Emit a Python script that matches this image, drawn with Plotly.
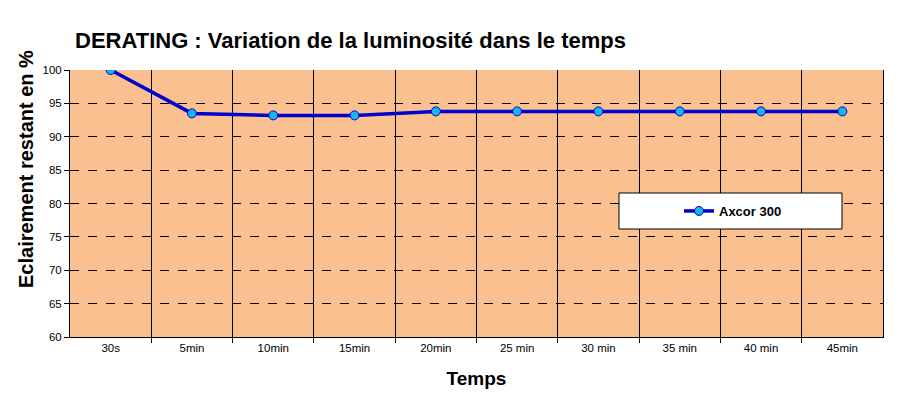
import plotly.graph_objects as go

categories = ["30s", "5min", "10min", "15min", "20min", "25 min", "30 min", "35 min", "40 min", "45min"]
values = [100, 93.5, 93.2, 93.2, 93.8, 93.8, 93.8, 93.8, 93.8, 93.8]
series_name = "Axcor 300"
y_ticks = [60, 65, 70, 75, 80, 85, 90, 95, 100]

x_idx = list(range(len(categories)))
bounds = [i + 0.5 for i in range(len(categories) - 1)]

fig = go.Figure()
fig.add_trace(go.Scatter(
    x=x_idx, y=values, mode="lines+markers", name="<b>" + series_name + "</b>",
    line=dict(color="#0000CC", width=3.5),
    marker=dict(color="#19B5F0", size=9, line=dict(color="#0000CC", width=1)),
))

font = "Liberation Sans, Arial, sans-serif"
W, H = 900, 398
L, R, T, B = 70, 17, 70, 61
pw, ph = W - L - R, H - T - B
fig.update_layout(
    width=W, height=H,
    margin=dict(l=L, r=R, t=T, b=B),
    paper_bgcolor="white",
    plot_bgcolor="#FAC090",
    font=dict(family=font, color="black", size=11),
    title=dict(text="<b>DERATING : Variation de la luminosité dans le temps</b>",
               x=75/W, xanchor="left", y=1-40/H, yanchor="middle",
               font=dict(size=22, family=font)),
    showlegend=True,
    legend=dict(x=(733-L)/pw, y=(H-B-211)/ph, xanchor="center", yanchor="middle",
                bgcolor="rgba(0,0,0,0)", borderwidth=0,
                font=dict(size=13, family=font), itemwidth=30),
    shapes=[dict(type="rect", xref="paper", yref="paper",
                 x0=(619-L)/pw, x1=(842-L)/pw,
                 y0=(H-B-229)/ph, y1=(H-B-193)/ph,
                 fillcolor="white", line=dict(color="black", width=1), layer="above")],
    annotations=[dict(text="<b>Eclairement restant en %</b>", textangle=-90,
                      xref="paper", yref="paper", x=(26-L)/pw, y=(H-B-169)/ph,
                      xanchor="center", yanchor="middle", showarrow=False,
                      font=dict(size=20, family=font))],
)
fig.update_xaxes(
    range=[-0.5, len(categories) - 0.5],
    tickvals=x_idx, ticktext=categories, ticks="", showgrid=False,
    showline=True, linecolor="black", linewidth=1, mirror=False,
    zeroline=False,
    minor=dict(tickvals=bounds, showgrid=True, gridcolor="black", gridwidth=1,
               ticks="outside", ticklen=5, tickcolor="black"),
    title=dict(text="<b>Temps</b>", font=dict(size=19, family=font), standoff=18),
    tickfont=dict(size=11.5),
)
fig.update_yaxes(
    range=[60, 100], tickvals=y_ticks, ticks="outside", ticklen=5, tickcolor="black",
    showgrid=True, gridcolor="black", gridwidth=1, griddash="dash",
    showline=True, linecolor="black", linewidth=1, mirror=True,
    zeroline=False,
    tickfont=dict(size=11.5),
)
fig.write_html("out.html")
